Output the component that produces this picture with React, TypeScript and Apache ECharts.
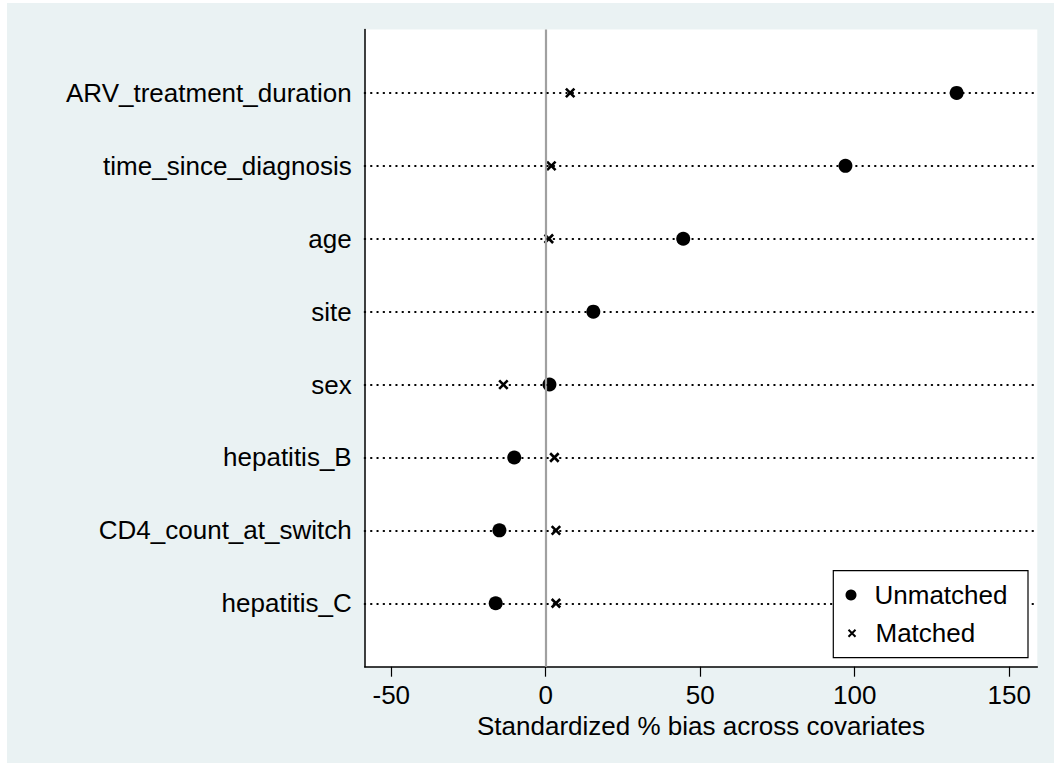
import React, { useEffect, useRef } from "react";
import * as echarts from "echarts";

const categories = [
  "ARV_treatment_duration",
  "time_since_diagnosis",
  "age",
  "site",
  "sex",
  "hepatitis_B",
  "CD4_count_at_switch",
  "hepatitis_C",
];
const unmatched = [133, 97, 44.5, 15.4, 1.2, -10.2, -15.0, -16.2];
const matched: (number | null)[] = [7.9, 1.8, 1.0, null, -13.7, 2.8, 3.3, 3.3];
const xTicks = [-50, 0, 50, 100, 150];
const xTitle = "Standardized % bias across covariates";

const FONT = "Liberation Sans";
const FS = 26;
const N = categories.length;
const rowVal = (i: number) => N - i;
const yTicks = categories.map((_, i) => rowVal(i));
const X_PATH = "path://M0 0L10 10M10 0L0 10";

export default function App() {
  const ref = useRef<HTMLDivElement>(null);
  useEffect(() => {
    if (!ref.current) return;
    const chart = echarts.init(ref.current, null, { renderer: "svg" });
    chart.setOption({
      animation: false,
      backgroundColor: "transparent",
      textStyle: { fontFamily: FONT },
      grid: {
        left: 357.7,
        top: 26.5,
        right: 16.7,
        bottom: 96.3,
        show: true,
        backgroundColor: "#ffffff",
        borderWidth: 0,
      },
      xAxis: {
        type: "value",
        min: -58.6,
        max: 159.1,
        name: xTitle,
        nameLocation: "middle",
        nameGap: 45,
        nameTextStyle: { fontFamily: FONT, fontSize: FS, color: "#000" },
        axisLine: { show: true, onZero: false, lineStyle: { color: "#000", width: 1.5 } },
        axisTick: {
          show: true,
          customValues: xTicks,
          length: 10,
          lineStyle: { color: "#000", width: 1.2 },
        },
        axisLabel: {
          customValues: xTicks,
          fontFamily: FONT,
          fontSize: FS,
          color: "#000",
          margin: 15,
        },
        splitLine: { show: false },
      },
      yAxis: {
        type: "value",
        min: 0.13,
        max: 8.87,
        axisLine: { show: true, onZero: false, lineStyle: { color: "#000", width: 1.5 } },
        axisTick: { show: false },
        axisLabel: {
          customValues: yTicks,
          formatter: (v: number) => categories[N - Math.round(v)] ?? "",
          fontFamily: FONT,
          fontSize: FS,
          color: "#000",
          margin: 13,
          padding: [6, 0, 0, 0],
        },
        splitLine: { show: false },
      },
      legend: [
        {
          data: ["Unmatched"],
          left: 838.5,
          top: 577,
          padding: 0,
          itemWidth: 11,
          itemHeight: 11,
          z: 10,
          selectedMode: false,
          textStyle: {
            fontFamily: FONT,
            fontSize: FS,
            color: "#000",
            lineHeight: 30,
            padding: [0, 0, 0, 13],
          },
        },
        {
          data: ["Matched"],
          left: 840.5,
          top: 615.3,
          padding: 0,
          itemWidth: 7,
          itemHeight: 7,
          z: 10,
          selectedMode: false,
          textStyle: {
            fontFamily: FONT,
            fontSize: FS,
            color: "#000",
            lineHeight: 30,
            padding: [0, 0, 0, 15],
          },
        },
      ],
      graphic: {
        elements: [
          {
            type: "rect",
            z: 9,
            shape: { x: 826.3, y: 567.7, width: 194.7, height: 87 },
            style: { fill: "#ffffff", stroke: "#000000", lineWidth: 1.2 },
          },
        ],
      },
      series: [
        {
          name: "guides",
          type: "scatter",
          data: [],
          z: 1,
          silent: true,
          markLine: {
            silent: true,
            symbol: ["none", "none"],
            label: { show: false },
            data: [
              {
                xAxis: 0,
                lineStyle: { color: "#a0a0a0", width: 2.2, type: "solid", opacity: 1 },
              },
              ...yTicks.map((v) => ({
                yAxis: v,
                lineStyle: {
                  color: "#000",
                  width: 2,
                  type: [0.5, 5.8],
                  cap: "round",
                  opacity: 1,
                },
              })),
            ],
          },
        },
        {
          name: "Unmatched",
          type: "scatter",
          z: 3,
          symbol: "circle",
          symbolSize: 14,
          itemStyle: { color: "#000", opacity: 1 },
          data: unmatched.map((v, i) => [v, rowVal(i)]),
        },
        {
          name: "Matched",
          type: "scatter",
          z: 4,
          symbol: X_PATH,
          symbolSize: 8.5,
          itemStyle: {
            color: "transparent",
            borderColor: "#000",
            borderWidth: 2.6,
            opacity: 1,
          },
          data: matched
            .map((v, i) => (v === null ? null : [v, rowVal(i)]))
            .filter((d) => d !== null),
        },
      ],
    });
    return () => chart.dispose();
  }, []);

  return (
    <div
      style={{
        position: "absolute",
        left: 0,
        top: 0,
        width: 1054,
        height: 763,
        background: "#ffffff",
      }}
    >
      <div
        ref={ref}
        style={{
          position: "absolute",
          left: 7,
          top: 3,
          width: 1047,
          height: 760,
          background: "#EAF2F3",
        }}
      />
    </div>
  );
}
